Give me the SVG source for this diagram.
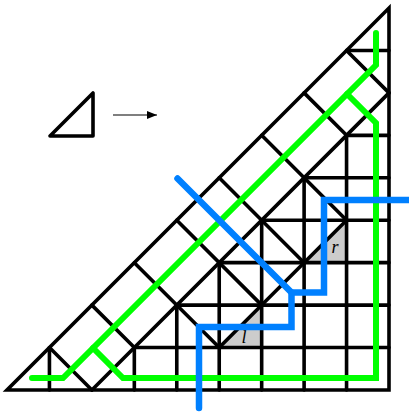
<svg xmlns="http://www.w3.org/2000/svg" width="409" height="414" viewBox="0 0 409 414">
<style>
.k{fill:none;stroke:#000;stroke-width:3.6;stroke-linecap:round;stroke-linejoin:miter}
.g{fill:none;stroke:#00ff00;stroke-width:6;stroke-linecap:round;stroke-linejoin:miter}
.b{fill:none;stroke:#0080ff;stroke-width:6.5;stroke-linecap:round;stroke-linejoin:miter}
.sh{fill:#cccccc;stroke:none}
.lb{font-family:"Liberation Serif",serif;font-style:italic;font-size:18px;fill:#000}
</style>
<defs>
<marker id="ah" viewBox="0 0 10 8" refX="10" refY="4" markerWidth="10" markerHeight="8" markerUnits="userSpaceOnUse" orient="auto">
<path d="M0,0 L10,4 L0,8 Z" fill="#000"/>
</marker>
</defs>
<g id="icon">
<path d="M50,136 L93,93 V136 Z" fill="none" stroke="#000" stroke-width="3.6" stroke-linejoin="round"/>
<line x1="113" y1="115" x2="157" y2="115" stroke="#000" stroke-width="1.2" marker-end="url(#ah)"/>
</g>
<g id="shaded">
<path class="sh" d="M219.22,347.56 H261.67 V305.11 Z"/>
<path class="sh" d="M304.11,262.67 H346.56 V220.22 Z"/>
</g>
<g id="grid">
<path class="k" d="M7,390 H389 V8 Z"/>
<path class="k" d="M91.89,390 L389,92.89"/>
<path class="k" d="M219.22,347.56 L346.56,220.22"/>
<path class="k" d="M49.44,347.56 L91.89,390 M91.89,305.11 L134.33,347.56 M134.33,262.67 L219.22,347.56 M176.78,220.22 L261.67,305.11 M219.22,177.78 L304.11,262.67 M261.67,135.33 L346.56,220.22 M304.11,92.89 L346.56,135.33 M346.56,50.44 L389,92.89"/>
<path class="k" d="M49.44,390 V347.56 M346.56,50.44 H389"/>
<path class="k" d="M134.33,347.56 H389 M176.78,305.11 H389 M219.22,262.67 H389 M261.67,220.22 H389 M304.11,177.78 H389 M346.56,135.33 H389"/>
<path class="k" d="M134.33,347.56 V390 M176.78,305.11 V390 M219.22,262.67 V390 M261.67,220.22 V390 M304.11,177.78 V390 M346.56,135.33 V390"/>
</g>
<g id="labels">
<text class="lb" x="244" y="343" text-anchor="middle">l</text>
<text class="lb" x="335" y="253" text-anchor="middle">r</text>
</g>
<g id="connectors">
<path class="g" d="M32,378 H63 L376,65 V33"/>
<path class="g" d="M93,348 L123,378 H376 V123 L347,94"/>
<path class="b" d="M177.5,178.5 L291.5,292.5 H324 V200 H412"/>
<path class="b" d="M291.5,292.5 V327 H199 V408"/>
</g>
</svg>
